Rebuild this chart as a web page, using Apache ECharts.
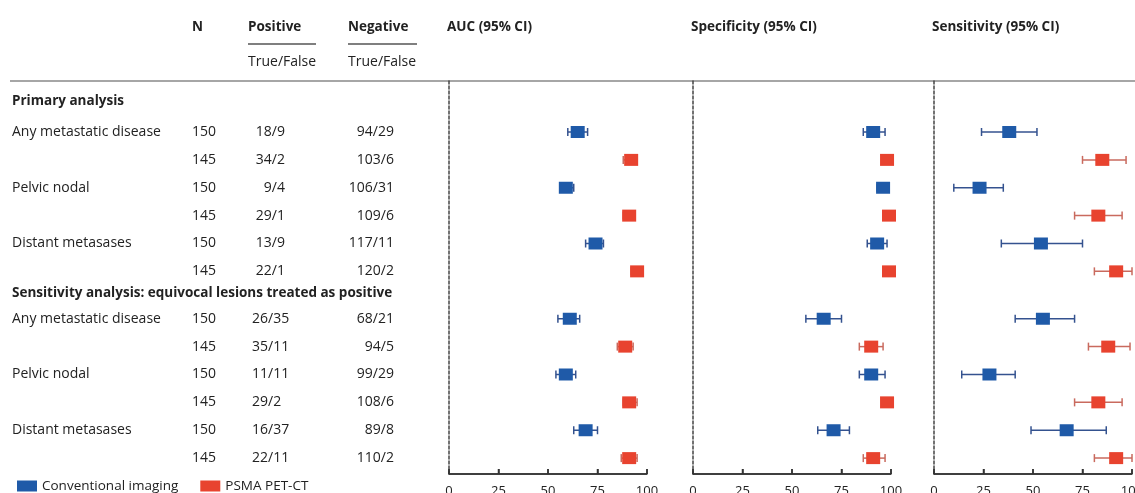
<!DOCTYPE html>
<html><head><meta charset="utf-8">
<script src="https://cdn.jsdelivr.net/npm/echarts@6/dist/echarts.min.js"></script>
<style>html,body{margin:0;padding:0;background:#fff}#c{width:1135px;height:493px}</style>
</head><body><div id="c"></div>
<script>
// ---------- data ----------
const sectionTitles = ['Primary analysis', 'Sensitivity analysis: equivocal lesions treated as positive'];
const rowLabels = ['Any metastatic disease', '', 'Pelvic nodal', '', 'Distant metasases', '',
                   'Any metastatic disease', '', 'Pelvic nodal', '', 'Distant metasases', ''];
const nValues = ['150','145','150','145','150','145','150','145','150','145','150','145'];
const positiveTF = ['18/9','34/2','9/4','29/1','13/9','22/1','26/35','35/11','11/11','29/2','16/37','22/11'];
const negativeTF = ['94/29','103/6','106/31','109/6','117/11','120/2','68/21','94/5','99/29','108/6','89/8','110/2'];
const groups = ['Conventional imaging', 'PSMA PET-CT'];

const aucEst  = [65, 92, 59, 91, 74, 95,   61, 89, 59, 91, 69, 91];
const aucLow  = [60, 88, 56, 88, 69, 92,   55, 85, 54, 88, 63, 87];
const aucHigh = [70, 95, 63, 94, 78, 98,   66, 93, 64, 95, 75, 95];

const specEst  = [91, 98, 96, 99, 93, 99,   66, 90, 90, 98, 71, 91];
const specLow  = [86, 96, 93, 97, 88, 97,   57, 84, 84, 96, 63, 86];
const specHigh = [97, 100, 99, 100, 98, 100, 75, 96, 97, 100, 79, 97];

const sensEst  = [38, 85, 23, 83, 54, 92,   55, 88, 28, 83, 67, 92];
const sensLow  = [24, 75, 10, 71, 34, 81,   41, 78, 14, 71, 49, 81];
const sensHigh = [52, 97, 35, 95, 75, 100,  71, 99, 41, 95, 87, 100];

const xTicks = [0, 25, 50, 75, 100];
const panelTitles = ['AUC (95% CI)', 'Specificity (95% CI)', 'Sensitivity (95% CI)'];

// ---------- layout / style ----------
const FONT = '"Open Sans"';
const FS = 14, FSB = 13.5;
const TXT = '#222';
const BLUE = '#1f5aa8', RED = '#e8432f';
const BLUE_BAR = '#34528f', RED_BAR = '#c96a5e';
const AXIS = '#333';
const OFF = 2;
const Y_MIN = OFF - 1.83, Y_MAX = OFF + 12.27;
const TOP = 81, BOTTOM = 19, PANEL_W = 198;
const sectionPos = [OFF - 1.1, OFF + 5.78];
function rowPos(i) { return OFF + i + (i >= 6 ? 0.7 : 0); }

const panelData = [
  { left: 449, est: aucEst,  low: aucLow,  high: aucHigh },
  { left: 693, est: specEst, low: specLow, high: specHigh },
  { left: 934, est: sensEst, low: sensLow, high: sensHigh }
];

const chart = echarts.init(document.getElementById('c'));

const grids = [], xAxes = [], yAxes = [], series = [];
panelData.forEach((p, k) => {
  grids.push({ left: p.left, width: PANEL_W, top: TOP, bottom: BOTTOM, outerBoundsMode: 'none' });
  xAxes.push({
    type: 'value', gridIndex: k, min: 0, max: 100, interval: 25, z: 10,
    axisLine: { show: true, onZero: false, lineStyle: { color: AXIS, width: 1.5 } },
    axisTick: { show: true, inside: true, length: 5, lineStyle: { color: AXIS, width: 1.5 } },
    axisLabel: { color: TXT, fontFamily: FONT, fontSize: 13, margin: 11, customValues: xTicks },
    splitLine: { show: false }
  });
  yAxes.push({
    type: 'value', gridIndex: k, inverse: true, min: Y_MIN, max: Y_MAX,
    axisLine: { show: true, lineStyle: { color: '#444', width: 1.5, type: [3, 2] } },
    axisTick: { show: false }, axisLabel: { show: false }, splitLine: { show: false }
  });
  [0, 1].forEach(g => {
    const idx = p.est.map((_, i) => i).filter(i => i % 2 === g);
    series.push({
      type: 'custom', xAxisIndex: k, yAxisIndex: k, silent: true, z: 2,
      encode: { x: [0, 1], y: 2 },
      data: idx.map(i => [p.low[i], p.high[i], rowPos(i)]),
      renderItem: (params, api) => {
        const a = api.coord([api.value(0), api.value(2)]);
        const b = api.coord([api.value(1), api.value(2)]);
        const st = { stroke: g === 0 ? BLUE_BAR : RED_BAR, lineWidth: 1.5 };
        const h = 4;
        return { type: 'group', children: [
          { type: 'line', shape: { x1: a[0], y1: a[1], x2: b[0], y2: b[1] }, style: st },
          { type: 'line', shape: { x1: a[0], y1: a[1] - h, x2: a[0], y2: a[1] + h }, style: st },
          { type: 'line', shape: { x1: b[0], y1: b[1] - h, x2: b[0], y2: b[1] + h }, style: st }
        ]};
      }
    });
    series.push({
      type: 'scatter', name: groups[g], xAxisIndex: k, yAxisIndex: k, z: 3,
      symbol: 'rect', symbolSize: [14, 12],
      itemStyle: { color: g === 0 ? BLUE : RED, opacity: 1 },
      data: idx.map(i => [p.est[i], rowPos(i)])
    });
  });
});

// table grid (text columns share the panels' vertical scale)
grids.push({ left: 0, width: 440, top: TOP, bottom: BOTTOM, outerBoundsMode: 'none' });
xAxes.push({ type: 'value', gridIndex: 3, min: 0, max: 440, show: false });
yAxes.push({ type: 'value', gridIndex: 3, inverse: true, min: Y_MIN, max: Y_MAX, show: false });

function txt(x, y, text, opts) {
  return { type: 'text', style: Object.assign({ x, y, text, fill: TXT,
    font: FS + 'px ' + FONT, verticalAlign: 'middle', align: 'left' }, opts || {}) };
}
series.push({
  type: 'custom', xAxisIndex: 3, yAxisIndex: 3, silent: true,
  encode: { x: 0, y: 1 },
  data: rowLabels.map((_, i) => [i, rowPos(i)]),
  renderItem: (params, api) => {
    const i = api.value(0);
    const y = api.coord([0, api.value(1)])[1];
    const primary = i < 6;
    return { type: 'group', children: [
      txt(12, y, rowLabels[i]),
      txt(192, y, nValues[i]),
      primary ? txt(285, y, positiveTF[i], { align: 'right' }) : txt(252, y, positiveTF[i]),
      txt(394, y, negativeTF[i], { align: 'right' })
    ]};
  }
});
series.push({
  type: 'custom', xAxisIndex: 3, yAxisIndex: 3, silent: true,
  encode: { x: 0, y: 1 },
  data: sectionTitles.map((_, i) => [i, sectionPos[i]]),
  renderItem: (params, api) => {
    const i = api.value(0);
    const y = api.coord([0, api.value(1)])[1];
    return txt(12, y, sectionTitles[i], { font: 'bold ' + FSB + 'px ' + FONT });
  }
});

chart.setOption({
  animation: false,
  grid: grids, xAxis: xAxes, yAxis: yAxes, series,
  legend: {
    data: groups.map(n => ({ name: n, icon: 'rect' })),
    left: 12, top: 474, itemWidth: 20, itemHeight: 11, itemGap: 22,
    textStyle: { color: TXT, fontFamily: FONT, fontSize: FSB },
    selectedMode: false
  }
});

// header texts / rules, plus a traced baseline with ticks for each panel
const headFont = 'bold ' + FSB + 'px ' + FONT;
const graphic = [
  { type: 'line', shape: { x1: 10, y1: 81, x2: 1135, y2: 81 }, style: { stroke: '#888', lineWidth: 1.5 } },
  { type: 'line', shape: { x1: 248, y1: 44, x2: 316, y2: 44 }, style: { stroke: '#555', lineWidth: 1.5 } },
  { type: 'line', shape: { x1: 348, y1: 44, x2: 417, y2: 44 }, style: { stroke: '#555', lineWidth: 1.5 } },
  { type: 'text', x: 192, y: 27, style: { text: 'N', font: headFont, fill: TXT, verticalAlign: 'middle' } },
  { type: 'text', x: 248, y: 27, style: { text: 'Positive', font: headFont, fill: TXT, verticalAlign: 'middle' } },
  { type: 'text', x: 348, y: 27, style: { text: 'Negative', font: headFont, fill: TXT, verticalAlign: 'middle' } },
  { type: 'text', x: 248, y: 62, style: { text: 'True/False', font: FS + 'px ' + FONT, fill: TXT, verticalAlign: 'middle' } },
  { type: 'text', x: 348, y: 62, style: { text: 'True/False', font: FS + 'px ' + FONT, fill: TXT, verticalAlign: 'middle' } }
];
const baseY = chart.getHeight() - BOTTOM;
panelTitles.forEach((t, k) => {
  graphic.push({ type: 'text', x: panelData[k].left - 2, y: 27,
    style: { text: t, font: headFont, fill: TXT, verticalAlign: 'middle' } });
  const px = v => {
    let x = NaN;
    try { x = chart.convertToPixel({ xAxisIndex: k }, v); } catch (e) {}
    if (Array.isArray(x)) x = x[0];
    if (!isFinite(x)) x = panelData[k].left + (v - xTicks[0]) / (xTicks[xTicks.length - 1] - xTicks[0]) * PANEL_W;
    return x;
  };
  graphic.push({ type: 'line', z: 20,
    shape: { x1: px(xTicks[0]), y1: baseY, x2: px(xTicks[xTicks.length - 1]), y2: baseY },
    style: { stroke: AXIS, lineWidth: 1.5 } });
  xTicks.forEach(v => {
    const x = px(v);
    graphic.push({ type: 'line', z: 20, shape: { x1: x, y1: baseY, x2: x, y2: baseY - 5 },
      style: { stroke: AXIS, lineWidth: 1.5 } });
  });
});
chart.setOption({ graphic });
</script></body></html>
